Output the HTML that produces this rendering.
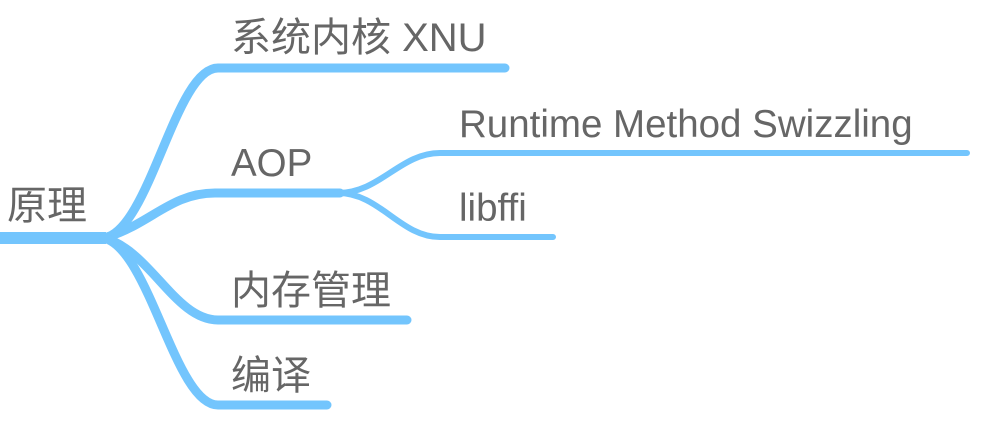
<!DOCTYPE html>
<html><head><style>
body{margin:0;width:1007px;height:435px;background:#fff;overflow:hidden;position:relative}
.t{position:absolute;font-family:"Liberation Sans","Noto Sans CJK SC",sans-serif;font-size:38.5px;color:#666;line-height:1;white-space:nowrap}
.c{font-size:40px}
</style></head><body>
<svg width="1007" height="435" style="position:absolute;left:0;top:0" fill="none" stroke="#73c5fd" stroke-linecap="round">
<path d="M0 238 H106" stroke-width="12" stroke-linecap="butt"/>
<path d="M104 238 C150 230,175 68,218 68 H505" stroke-width="9"/>
<path d="M104 238 C150 225,170 193,215 193 H340" stroke-width="9"/>
<path d="M104 238 C150 250,175 320,218 320 H407" stroke-width="9"/>
<path d="M104 238 C150 250,175 405,218 405 H327" stroke-width="9"/>
<path d="M338 193 C380 193,400 153,440 153 H967" stroke-width="6"/>
<path d="M338 193 C380 193,400 237,440 237 H553" stroke-width="6"/>
</svg>
<div class="t c" style="left:7px;top:186px">原理</div>
<div class="t c" style="left:231px;top:18px">系统内核 XNU</div>
<div class="t" style="left:231px;top:145px">AOP</div>
<div class="t" style="left:459px;top:106px">Runtime Method Swizzling</div>
<div class="t" style="left:459px;top:190px">libffi</div>
<div class="t c" style="left:231px;top:271px">内存管理</div>
<div class="t c" style="left:231px;top:356px">编译</div>
</body></html>
